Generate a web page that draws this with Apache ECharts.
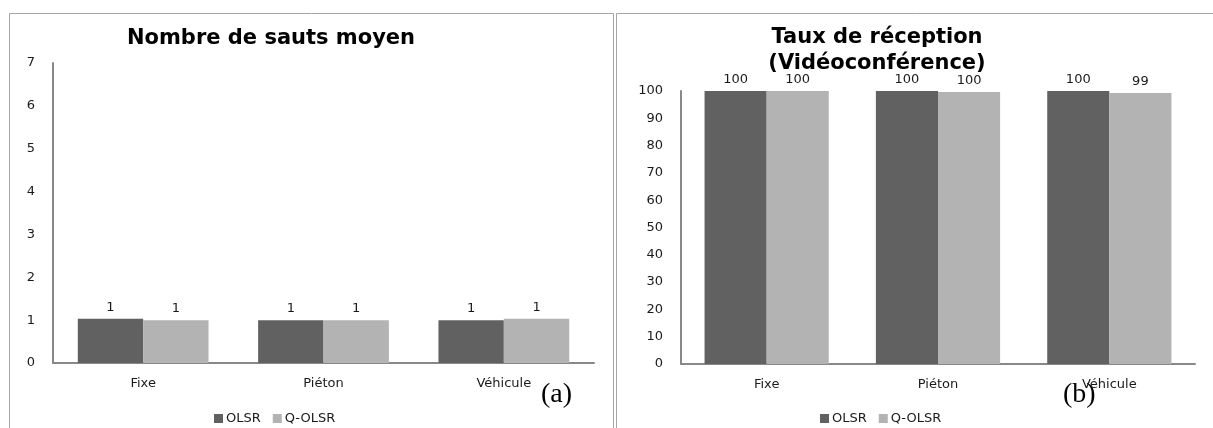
<!DOCTYPE html>
<html>
<head>
<meta charset="utf-8">
<script src="https://cdn.jsdelivr.net/npm/echarts@6/dist/echarts.min.js"></script>
<style>
html,body{margin:0;padding:0;background:#fff;}
#c{width:1213px;height:428px;}
</style>
</head>
<body>
<div id="c"></div>
<script>
const categories = ['Fixe', 'Piéton', 'Véhicule'];
const seriesNames = ['OLSR', 'Q-OLSR'];
const hopsOLSR = [1.03, 1.0, 1.0];
const hopsQOLSR = [1.0, 1.0, 1.03];
const recvOLSR = [100, 100, 100];
const recvQOLSR = [100, 99.6, 99.3];
const titleA = 'Nombre de sauts moyen';
const titleB = 'Taux de réception\n(Vidéoconférence)';

const DARK = '#616161';
const LIGHT = '#b3b3b3';
const AXIS = '#888888';
const FONT = 'DejaVu Sans';
const txt = '#1a1a1a';

const chart = echarts.init(document.getElementById('c'), null, {renderer: 'canvas'});

function xAxisCfg(gi) {
  return {
    type: 'category', gridIndex: gi, data: categories,
    axisLine: {show: true, lineStyle: {color: AXIS, width: 2}},
    axisTick: {show: false},
    axisLabel: {color: txt, fontFamily: FONT, fontSize: 13, margin: 14},
    splitLine: {show: false}
  };
}
function yAxisCfg(gi, max, interval) {
  return {
    type: 'value', gridIndex: gi, min: 0, max: max, interval: interval,
    axisLine: {show: true, lineStyle: {color: AXIS, width: 2}},
    axisTick: {show: false},
    splitLine: {show: false},
    axisLabel: {color: txt, fontFamily: FONT, fontSize: 13, margin: 18}
  };
}
function barSeries(name, data, color, gi) {
  return {
    type: 'bar', name: name, data: data,
    xAxisIndex: gi, yAxisIndex: gi,
    barGap: '0%', barCategoryGap: '27.5%',
    itemStyle: {color: color},
    label: {
      show: true, position: 'top', distance: 5,
      color: txt, fontFamily: FONT, fontSize: 13,
      formatter: p => String(Math.round(p.value))
    },
    emphasis: {disabled: true}
  };
}

chart.setOption({
  animation: false,
  backgroundColor: '#ffffff',
  title: [
    {text: titleA, left: 266, top: 23, textAlign: 'center',
     textStyle: {fontFamily: FONT, fontWeight: 'bold', fontSize: 21, color: '#000'}},
    {text: titleB, left: 872, top: 20, textAlign: 'center',
     textStyle: {fontFamily: FONT, fontWeight: 'bold', fontSize: 21, color: '#000', lineHeight: 26}}
  ],
  legend: [
    {data: seriesNames, left: 209, top: 407, itemWidth: 9, itemHeight: 9, itemGap: 12,
     icon: 'rect', textStyle: {fontFamily: FONT, fontSize: 13, color: txt, padding: [0,0,0,-2]}},
    {data: seriesNames.map(n => ({name: n})), left: 815, top: 407, itemWidth: 9, itemHeight: 9, itemGap: 12,
     icon: 'rect', textStyle: {fontFamily: FONT, fontSize: 13, color: txt, padding: [0,0,0,-2]}}
  ],
  grid: [
    {left: 53, top: 63, width: 541, height: 300},
    {left: 681, top: 91, width: 514, height: 273}
  ],
  xAxis: [xAxisCfg(0), xAxisCfg(1)],
  yAxis: [yAxisCfg(0, 7, 1), yAxisCfg(1, 100, 10)],
  series: [
    barSeries(seriesNames[0], hopsOLSR, DARK, 0),
    barSeries(seriesNames[1], hopsQOLSR, LIGHT, 0),
    barSeries(seriesNames[0], recvOLSR, DARK, 1),
    barSeries(seriesNames[1], recvQOLSR, LIGHT, 1)
  ],
  graphic: [
    {type: 'rect', shape: {x: 9.5, y: 13.5, width: 604, height: 430},
     style: {fill: 'none', stroke: '#a6a6a6', lineWidth: 1}, silent: true},
    {type: 'rect', shape: {x: 616.5, y: 13.5, width: 610, height: 430},
     style: {fill: 'none', stroke: '#a6a6a6', lineWidth: 1}, silent: true},
    {type: 'text', left: 541, top: 381,
     style: {text: '(a)', font: '28px "Liberation Serif"', fill: '#000'}},
    {type: 'text', left: 1063, top: 381,
     style: {text: '(b)', font: '28px "Liberation Serif"', fill: '#000'}}
  ]
});
</script>
</body>
</html>
